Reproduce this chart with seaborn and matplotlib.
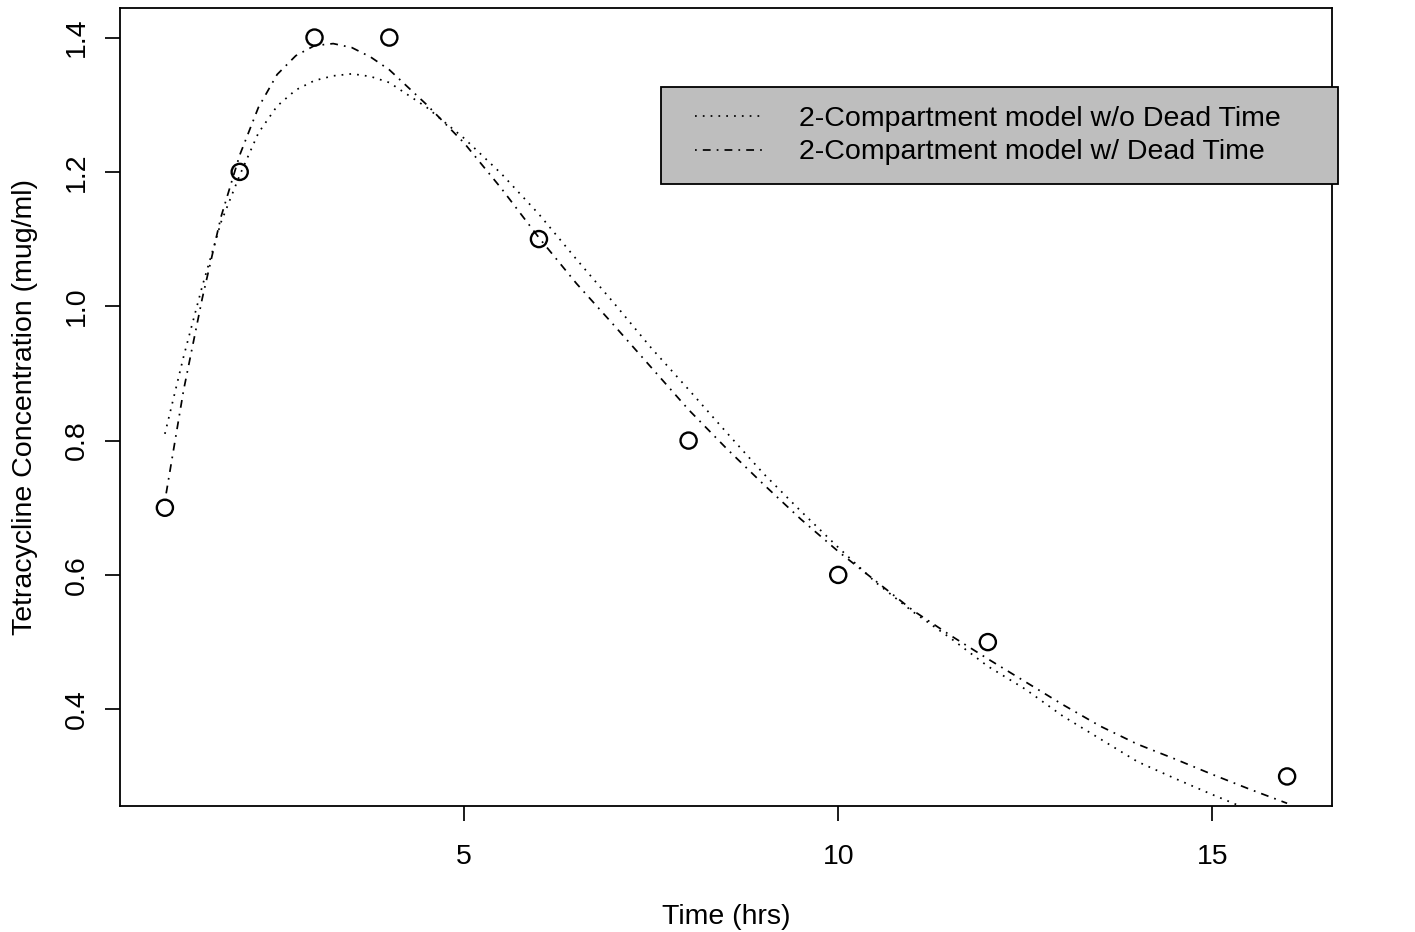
import matplotlib
matplotlib.use("Agg")
import matplotlib.pyplot as plt
from matplotlib.legend_handler import HandlerLine2D
import seaborn as sns

# ── Observed tetracycline data ─────────────────────────────────────────────
time_obs = [1, 2, 3, 4, 6, 8, 10, 12, 16]
conc_obs = [0.7, 1.2, 1.4, 1.4, 1.1, 0.8, 0.6, 0.5, 0.3]

# ── Fitted curves ──────────────────────────────────────────────────────────
time_fit = [1.0, 1.25, 1.5, 1.75, 2.0, 2.25, 2.5, 2.75, 3.0, 3.25, 3.5, 3.75, 4.0,
            4.5, 5.0, 5.5, 6.0, 6.5, 7.0, 7.5, 8.0, 8.5, 9.0, 9.5, 10.0,
            10.5, 11.0, 11.5, 12.0, 12.5, 13.0, 13.5, 14.0, 14.5, 15.0, 15.5, 16.0]
conc_no_dead = [0.81, 0.925, 1.03, 1.125, 1.195, 1.258, 1.298, 1.322, 1.336, 1.343, 1.346, 1.342, 1.333,
                1.296, 1.25, 1.197, 1.137, 1.07, 1.005, 0.938, 0.876, 0.813, 0.751, 0.695, 0.641,
                0.589, 0.545, 0.506, 0.464, 0.43, 0.39, 0.356, 0.322, 0.297, 0.273, 0.25, 0.23]
conc_dead = [0.71, 0.875, 1.012, 1.133, 1.225, 1.296, 1.345, 1.373, 1.388, 1.391, 1.385, 1.371, 1.352,
             1.30, 1.243, 1.175, 1.102, 1.034, 0.972, 0.909, 0.846, 0.789, 0.735, 0.683, 0.635,
             0.591, 0.547, 0.510, 0.475, 0.441, 0.407, 0.375, 0.348, 0.326, 0.303, 0.281, 0.26]

labels = ["2-Compartment model w/o Dead Time", "2-Compartment model w/ Dead Time"]

sns.set_theme(style="white")
plt.rcParams['font.family'] = ['Liberation Sans', 'DejaVu Sans']
plt.rcParams['text.color'] = 'black'

FS = 20.5
fig = plt.figure(figsize=(14.15, 9.32), dpi=100)
ax = fig.add_axes([120 / 1415, 126 / 932, 1212 / 1415, 798 / 932])

sns.lineplot(x=time_fit, y=conc_no_dead, ax=ax, color='black', lw=1.25,
             linestyle=(0, (1, 3.5)), label=labels[0], legend=False)
sns.lineplot(x=time_fit, y=conc_dead, ax=ax, color='black', lw=1.25,
             linestyle=(0, (1, 3.5, 4.5, 3.5)), label=labels[1], legend=False)
sns.scatterplot(x=time_obs, y=conc_obs, ax=ax, marker='o', s=135,
                facecolor='none', edgecolor='black', linewidth=1.7, zorder=3)

ax.set_xlim(0.4, 16.6)
ax.set_ylim(0.256, 1.444)
ax.set_xticks([5, 10, 15])
ax.set_yticks([0.4, 0.6, 0.8, 1.0, 1.2, 1.4])
ax.set_yticklabels(['0.4', '0.6', '0.8', '1.0', '1.2', '1.4'], rotation=90, va='center')
ax.tick_params(axis='both', direction='out', length=11, width=1.25, color='black',
               labelsize=FS, labelcolor='black', bottom=True, left=True)
ax.tick_params(axis='x', pad=16)
ax.tick_params(axis='y', pad=10.5)
for sp in ax.spines.values():
    sp.set_color('black')
    sp.set_linewidth(1.3)

ax.set_xlabel("Time (hrs)", fontsize=FS, color='black', labelpad=25)
ax.set_ylabel("Tetracycline Concentration (mug/ml)", fontsize=FS, color='black', labelpad=18.5)

handles = ax.lines[:2]
leg = ax.legend(handles, labels, loc='upper left',
                bbox_to_anchor=(0.4464, 0.901, 0.5586, 0.0), mode='expand',
                borderaxespad=0, fontsize=FS, frameon=True, fancybox=False,
                framealpha=1, facecolor='#BEBEBE', edgecolor='black',
                borderpad=0.66, labelspacing=0.27, handlelength=3.0,
                handletextpad=1.2,
                handler_map={h: HandlerLine2D(xpad=0.55) for h in handles})
leg.get_frame().set_linewidth(1.3)
for t in leg.get_texts():
    t.set_color('black')
leg.set_clip_on(False)

fig.savefig("out.png", dpi=100, facecolor='white')
